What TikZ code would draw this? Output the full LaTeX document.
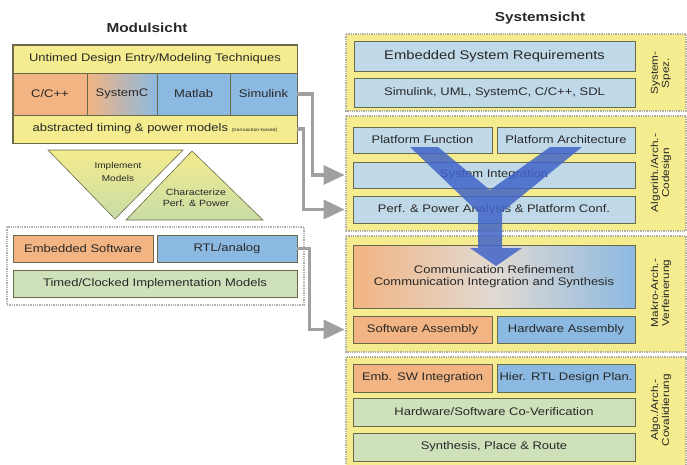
\documentclass[tikz,border=0pt]{standalone}
\usepackage{fontspec}
\setsansfont{Liberation Sans}[FakeStretch=1.18]
\renewcommand{\familydefault}{\sfdefault}
\usetikzlibrary{arrows.meta}

\definecolor{bandyellow}{RGB}{244,236,142}
\definecolor{boxorange}{RGB}{242,180,130}
\definecolor{boxblue}{RGB}{140,185,225}
\definecolor{lightblue}{RGB}{192,217,232}
\definecolor{boxgreen}{RGB}{206,225,186}
\definecolor{boxline}{RGB}{105,105,75}
\definecolor{dotgray}{RGB}{175,175,165}
\definecolor{arrowgray}{RGB}{160,160,160}
\definecolor{textgray}{RGB}{40,40,40}
\definecolor{yblue}{RGB}{65,100,200}
\definecolor{trigreen}{RGB}{200,220,165}

\begin{document}
\begin{tikzpicture}[x=1pt,y=-1pt,
  box/.style={draw=boxline, line width=0.9pt, inner sep=0pt, align=center, text=textgray, font=\fontsize{11}{12.5}\selectfont},
  band/.style={draw=dotgray, densely dotted, line width=1.3pt, fill=bandyellow},
  feed/.style={draw=arrowgray, line width=3.5pt, -{Triangle[length=21pt,width=19pt]}, shorten >=8pt},
  side/.style={rotate=90, align=center, text=textgray, font=\fontsize{10}{11}\selectfont},
  title/.style={font=\bfseries\fontsize{13}{15}\selectfont, text=textgray}]
\useasboundingbox (0,0) rectangle (687,464);

% Titles
\node[title] (modtitle) at (147,28) {Modulsicht};
\node[title] (systitle) at (540,18) {Systemsicht};

% Module view: entry techniques
\node[box, fill=bandyellow, minimum width=284pt, minimum height=28pt] (untimed) at (155,59) {Untimed Design Entry/Modeling Techniques};
\node[box, fill=boxorange, minimum width=74pt, minimum height=42pt] (cpp) at (50,94) {C/C++};
\node[box, left color=boxorange, right color=boxblue, minimum width=70pt, minimum height=42pt] (sysc) at (122,94) {SystemC};
\node[box, fill=boxblue, minimum width=73pt, minimum height=42pt] (matlab) at (193.5,94) {Matlab};
\node[box, fill=boxblue, minimum width=67pt, minimum height=42pt] (simulink) at (263.5,94) {Simulink};
\node[box, fill=bandyellow, minimum width=284pt, minimum height=28pt] (abstr) at (155,129) {abstracted timing \& power models {\fontsize{4.5}{5}\selectfont(transaction-based)}};
\draw[boxline, line width=1.4pt] (untimed.north west) rectangle (abstr.south east);

% Triangles
\draw[boxline, line width=0.6pt, top color=bandyellow, bottom color=trigreen] (48,150) -- (183,150) -- (115,219) -- cycle;
\draw[boxline, line width=0.6pt, top color=bandyellow, bottom color=trigreen] (192,151) -- (263,220) -- (126,220) -- cycle;
\node[align=center, text=textgray, font=\fontsize{8.5}{13}\selectfont] (implT) at (118,172) {Implement\\Models};
\node[align=center, text=textgray, font=\fontsize{9}{11.5}\selectfont] (charT) at (196,198) {Characterize\\Perf. \& Power};

% Implementation models
\draw[dotgray, densely dotted, line width=1.3pt, fill=white] (7,227) rectangle (304,305);
\node[box, fill=boxorange, minimum width=140pt, minimum height=27pt] (embsw) at (83,248.5) {Embedded Software};
\node[box, fill=boxblue, minimum width=140pt, minimum height=27pt] (rtl) at (227,248.5) {RTL/analog};
\node[box, fill=boxgreen, minimum width=284pt, minimum height=27pt] (timed) at (155,283.5) {Timed/Clocked Implementation Models};

% System view: bands
\draw[band] (346,34) rectangle (686,111);
\draw[band] (346,116) rectangle (686,231);
\draw[band] (346,236) rectangle (686,352);
\draw[band] (346,357) rectangle (686,470);

% Band 1
\node[box, fill=lightblue, minimum width=281pt, minimum height=30pt, font=\fontsize{12.5}{14}\selectfont] (req) at (494.5,56) {Embedded System Requirements};
\node[box, fill=lightblue, minimum width=281pt, minimum height=29pt] (lang) at (494.5,92.5) {Simulink, UML, SystemC, C/C++, SDL};
\node[side] (spez) at (661,73) {System-\\Spez.};

% Band 2
\node[box, fill=lightblue, minimum width=139pt, minimum height=26pt] (pfunc) at (422.5,140) {Platform Function};
\node[box, fill=lightblue, minimum width=138pt, minimum height=26pt] (parch) at (566,140) {Platform Architecture};
\node[box, fill=lightblue, minimum width=282pt, minimum height=26pt] (sysint) at (494,175) {System Integration};
\node[box, fill=lightblue, minimum width=282pt, minimum height=27pt] (perf) at (494,209.5) {Perf. \& Power Analysis \& Platform Conf.};
\node[side] (codesign) at (661,173) {Algorith./Arch.-\\Codesign};

% Band 3
\node[box, left color=boxorange, right color=boxblue, middle color=lightblue!60!boxorange!70, minimum width=282pt, minimum height=63pt] (comm) at (494,276.5) {Communication Refinement\\Communication Integration and Synthesis};
\node[box, fill=boxorange, minimum width=139pt, minimum height=27pt] (swasm) at (422.5,329.5) {Software Assembly};
\node[box, fill=boxblue, minimum width=138pt, minimum height=27pt] (hwasm) at (566,329.5) {Hardware Assembly};
\node[side] (verf) at (661,293) {Makro-Arch.-\\Verfeinerung};

% Band 4
\node[box, fill=boxorange, minimum width=139pt, minimum height=28pt] (embswint) at (422.5,378) {Emb. SW Integration};
\node[box, fill=boxblue, minimum width=138pt, minimum height=28pt] (hierrtl) at (566,378) {Hier. RTL Design Plan.};
\node[box, fill=boxgreen, minimum width=282pt, minimum height=28pt] (hwswcov) at (494,412) {Hardware/Software Co-Verification};
\node[box, fill=boxgreen, minimum width=282pt, minimum height=28pt] (synth) at (494,447) {Synthesis, Place \& Route};
\node[side] (coval) at (661,410) {Algo./Arch.-\\Covalidierung};

% Y arrow
\fill[yblue, opacity=0.85] (410,147) -- (438,147) -- (490,190) -- (550,147) -- (582,147) -- (502,212)
  -- (502,248) -- (522,248) -- (496,266) -- (470,248) -- (478,248) -- (478,212) -- cycle;

% Feedback arrows
\draw[feed] (simulink.east) -- ++(15,0) |- (sysint.west);
\draw[feed] (abstr.east) -- ++(6,0) |- (perf.west);
\draw[feed] (rtl.east) -- ++(12,0) |- (swasm.west);
\end{tikzpicture}
\end{document}
